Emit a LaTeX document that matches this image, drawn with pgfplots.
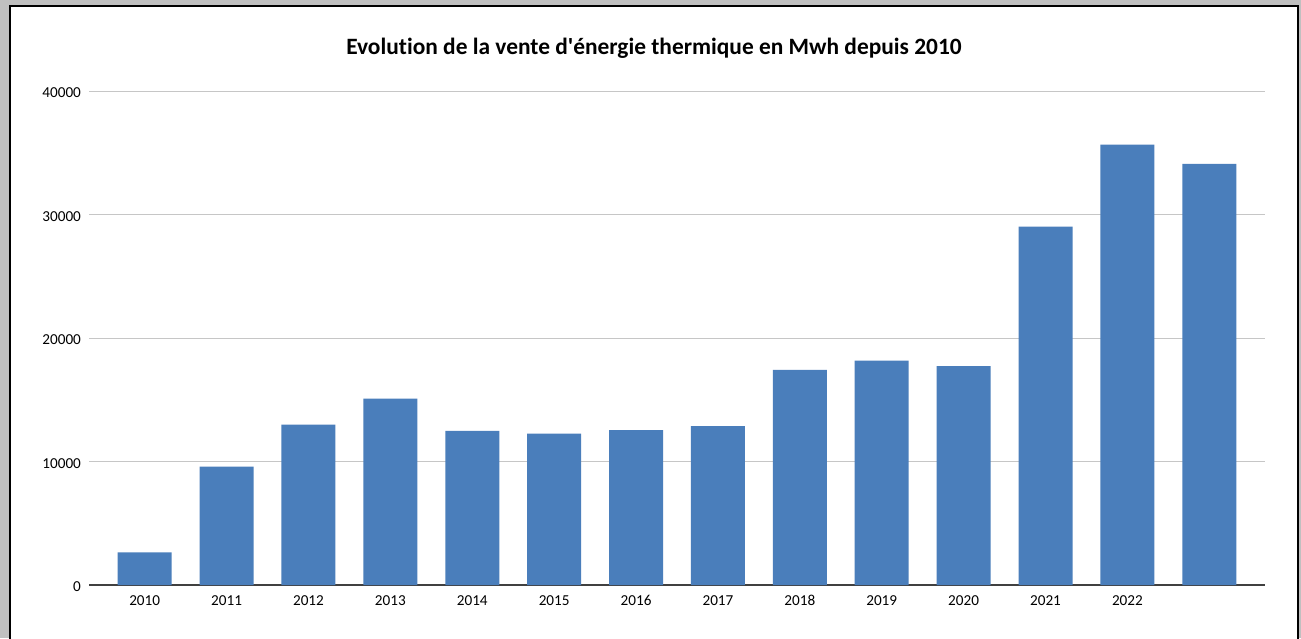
\documentclass[border=0pt]{standalone}
\usepackage{pgfplots}
\pgfplotsset{compat=1.18}
\usepackage{fontspec}
\setmainfont{Carlito}[Ligatures=NoCommon]
\definecolor{barblue}{HTML}{4A7EBB}
\definecolor{bggray}{HTML}{C0C0C0}
\definecolor{gridgray}{HTML}{C6C6C6}
\begin{document}
\begin{tikzpicture}[x=1pt,y=1pt]
\path[use as bounding box] (0,0) rectangle (650.5,319);
\clip (0,0) rectangle (650.5,319);
\fill[bggray] (0,0) rectangle (650.5,319);
\draw[fill=white,line width=1.2pt] (5,-5) rectangle (649,316);
\node[font=\bfseries\fontsize{11.7}{14}\selectfont] at (327,295) {Evolution de la vente d\textquotesingle énergie thermique en Mwh depuis 2010};
\begin{axis}[
  at={(44.5pt,26.5pt)}, anchor=south west,
  scale only axis, width=588pt, height=247pt,
  xmin=-0.68, xmax=13.68, ymin=0, ymax=40000,
  axis lines*=left,
  x axis line style={black!75, line width=0.6pt, -},
  y axis line style={draw=none},
  ytick={0,10000,20000,30000,40000},
  ymajorgrids, grid style={gridgray, line width=0.5pt},
  xtick={0,...,12},
  xticklabels={2010,2011,2012,2013,2014,2015,2016,2017,2018,2019,2020,2021,2022},
  major tick length=0pt,
  tick label style={font=\fontsize{7.6}{9}\selectfont, text height=1.6ex, text depth=0.2ex},
  /pgf/number format/assume math mode=true,
  /pgf/number format/1000 sep={},
  scaled y ticks=false,
  yticklabel style={anchor=east, xshift=-0.5pt},
  xticklabel style={yshift=0.8pt},
  ybar, bar width=27pt,
  clip=false,
]
\addplot[fill=barblue, draw=none] coordinates {
(0,2650) (1,9580) (2,12980) (3,15100) (4,12470) (5,12250) (6,12550)
(7,12870) (8,17410) (9,18160) (10,17730) (11,29010) (12,35650) (13,34090)};
\end{axis}
\end{tikzpicture}
\end{document}
